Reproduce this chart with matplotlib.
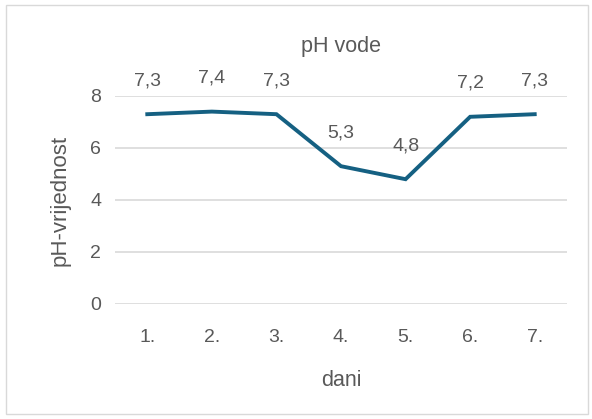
import matplotlib.pyplot as plt
from matplotlib.patches import Rectangle

days = ['1.', '2.', '3.', '4.', '5.', '6.', '7.']
ph = [7.3, 7.4, 7.3, 5.3, 4.8, 7.2, 7.3]
yticks = [0, 2, 4, 6, 8]

txt = '#595959'
plt.rcParams['font.family'] = ['Liberation Sans', 'DejaVu Sans']

fig = plt.figure(figsize=(5.92, 4.19), dpi=100)
fig.patches.append(Rectangle((6 / 592, 5 / 419), 582 / 592, 409 / 419,
                             transform=fig.transFigure, fill=False,
                             edgecolor='#d9d9d9', linewidth=1))

ax = fig.add_axes([115 / 592, 1 - 304 / 419, 452 / 592, 208 / 419])
x = range(len(days))
ax.plot(x, ph, color='#156082', linewidth=2.8, solid_joinstyle='miter', clip_on=False)
for i, v in zip(x, ph):
    ax.annotate(f'{v:.1f}'.replace('.', ','), (i, v), xytext=(0, 18),
                textcoords='offset points', ha='center', va='bottom',
                fontsize=14, color=txt, annotation_clip=False)

ax.set_xlim(-0.5, len(days) - 0.5)
ax.set_ylim(0, 8)
ax.set_xticks(list(x))
ax.set_xticklabels(days)
ax.set_yticks(yticks)
ax.tick_params(length=0, labelsize=14, labelcolor=txt)
ax.tick_params(axis='x', pad=18)
ax.tick_params(axis='y', pad=10)
ax.grid(axis='y', color='#d9d9d9', linewidth=1.2)
ax.set_axisbelow(True)
for s in ax.spines.values():
    s.set_visible(False)

ax.set_xlabel('dani', fontsize=15.5, color=txt, labelpad=17)
ax.set_ylabel('pH-vrijednost', fontsize=16, color=txt, labelpad=14)
fig.text(341 / 592, 1 - 46 / 419, 'pH vode', ha='center', va='center',
         fontsize=15.5, color=txt)

fig.savefig('out.png', dpi=100)
